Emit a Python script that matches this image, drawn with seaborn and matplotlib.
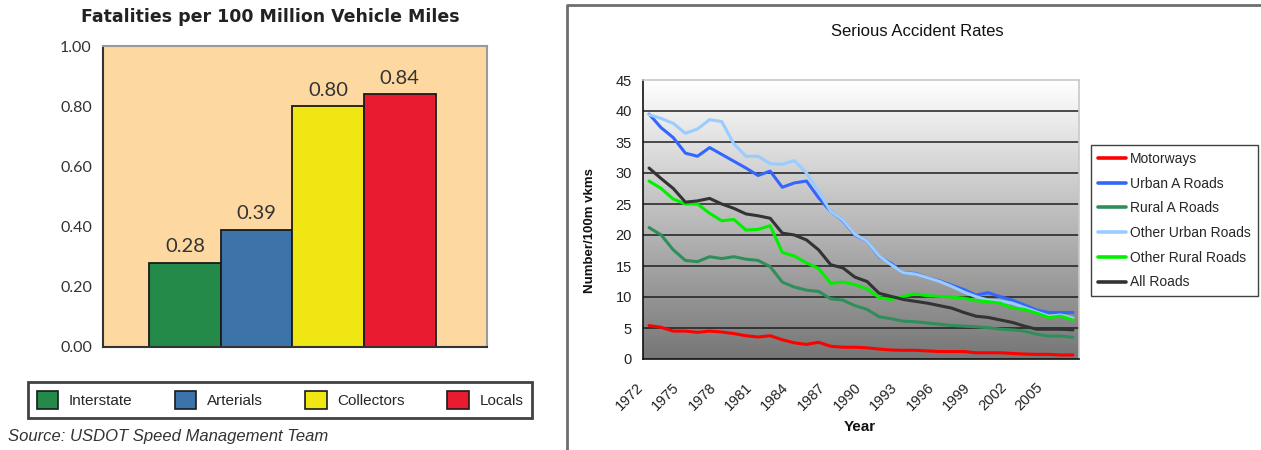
import numpy as np
import pandas as pd
import matplotlib
matplotlib.use("Agg")
import matplotlib.pyplot as plt
from matplotlib.colors import LinearSegmentedColormap
from matplotlib.patches import Patch
from matplotlib.lines import Line2D
from matplotlib.ticker import FixedLocator, NullFormatter
from matplotlib.transforms import ScaledTranslation
import seaborn as sns

# ---- Fatalities per 100 million vehicle miles ----
road_classes = ["Interstate", "Arterials", "Collectors", "Locals"]
fatality_rates = [0.28, 0.39, 0.80, 0.84]
bar_colors = ["#238a4a", "#3c74aa", "#f0e614", "#e81b30"]

# ---- Serious accident rates, 1972-2007 ----
years = list(range(1972, 2008))
motorways = [5.4, 5.1, 4.5, 4.5, 4.3, 4.5, 4.35, 4.1, 3.75, 3.55, 3.75, 3.1,
             2.6, 2.35, 2.7, 2.05, 1.9, 1.9, 1.8, 1.6, 1.45, 1.4, 1.4, 1.3,
             1.2, 1.2, 1.2, 1.0, 1.0, 1.0, 0.9, 0.8, 0.75, 0.75, 0.65, 0.65]
urban_a = [39.5, 37.3, 35.7, 33.2, 32.7, 34.1, 33.0, 31.9, 30.8, 29.6, 30.3, 27.7,
           28.4, 28.7, 26.0, 23.8, 22.3, 20.0, 19.0, 16.5, 15.4, 13.9, 13.8, 13.1,
           12.6, 11.9, 11.2, 10.3, 10.7, 10.05, 9.5, 8.7, 7.9, 7.5, 7.5, 7.5]
rural_a = [21.2, 20.0, 17.6, 15.9, 15.7, 16.5, 16.2, 16.5, 16.1, 15.9, 14.9, 12.4,
           11.6, 11.1, 10.9, 9.7, 9.5, 8.6, 8.0, 6.8, 6.5, 6.1, 6.0, 5.8,
           5.6, 5.4, 5.3, 5.2, 5.05, 4.8, 4.7, 4.5, 4.0, 3.7, 3.7, 3.5]
other_urban = [39.4, 38.8, 38.0, 36.4, 37.1, 38.6, 38.3, 34.7, 32.7, 32.7, 31.5, 31.4,
               32.0, 30.0, 27.0, 23.8, 22.4, 20.1, 19.0, 16.6, 15.2, 13.9, 13.7, 13.1,
               12.5, 11.7, 10.8, 10.05, 9.5, 9.35, 9.0, 8.3, 7.6, 6.9, 7.1, 6.6]
other_rural = [28.7, 27.5, 25.8, 25.0, 25.0, 23.5, 22.3, 22.5, 20.8, 20.9, 21.5, 17.2,
               16.6, 15.5, 14.6, 12.2, 12.4, 12.0, 11.3, 9.9, 9.6, 10.1, 10.5, 10.2,
               10.1, 10.0, 9.8, 9.4, 9.25, 9.0, 8.2, 8.0, 7.4, 6.7, 6.9, 6.3]
all_roads = [30.8, 29.1, 27.5, 25.3, 25.5, 25.9, 25.0, 24.3, 23.4, 23.1, 22.7, 20.3,
             20.0, 19.2, 17.6, 15.2, 14.7, 13.2, 12.5, 10.6, 10.1, 9.6, 9.3, 9.0,
             8.6, 8.2, 7.5, 6.9, 6.7, 6.3, 5.9, 5.3, 4.8, 4.8, 4.8, 4.7]

series_names = ["Motorways", "Urban A Roads", "Rural A Roads",
                "Other Urban Roads", "Other Rural Roads", "All Roads"]
series_values = [motorways, urban_a, rural_a, other_urban, other_rural, all_roads]
series_colors = ["#ff0000", "#3366ff", "#2f8f5b", "#99ccff", "#00f000", "#333333"]
year_labels = [str(y) for y in range(1972, 2008, 3)]

sns.set_style("white")
plt.rcParams["font.family"] = ["Liberation Sans", "DejaVu Sans"]

fig = plt.figure(figsize=(12.61, 4.5), dpi=100)

# ================= Left panel: bar chart =================
axb = fig.add_axes([103 / 1261, 1 - 347 / 450, 384 / 1261, 301 / 450])
bars_df = pd.DataFrame({"road": road_classes, "rate": fatality_rates})
sns.barplot(data=bars_df, x="road", y="rate", hue="road", palette=bar_colors,
            order=road_classes, hue_order=road_classes, width=1.0,
            edgecolor="#1a1a1a", linewidth=1.3, saturation=1, legend=False, ax=axb)
axb.set_facecolor("#fdd8a0")
axb.set_xlim(-1.15, 4.22)
axb.set_ylim(0, 1.0)
axb.set_yticks(np.arange(0, 1.01, 0.2))
axb.set_yticklabels([f"{v:.2f}" for v in np.arange(0, 1.01, 0.2)],
                    fontfamily="Lato", fontsize=11.5, color="#333333")
axb.set_xticks([])
axb.set_xlabel("")
axb.set_ylabel("")
axb.tick_params(axis="y", direction="out", length=5, width=1.2, color="#333333", pad=3)
for side in ("left", "bottom"):
    axb.spines[side].set_color("#333333")
    axb.spines[side].set_linewidth(1.5)
for side in ("top", "right"):
    axb.spines[side].set_color("#9a9a9a")
    axb.spines[side].set_linewidth(1.5)
for i, v in enumerate(fatality_rates):
    axb.text(i, v + 0.025, f"{v:.2f}", ha="center", va="bottom",
             fontfamily="Lato", fontsize=14.5, color="#333333")

fig.text(270 / 1261, 1 - 17 / 450, "Fatalities per 100 Million Vehicle Miles",
         ha="center", va="center", fontsize=12.5, fontweight="bold",
         fontfamily="DejaVu Sans", color="#222222")

bar_handles = [Patch(facecolor=c, edgecolor="#1a1a1a", linewidth=1.2) for c in bar_colors]
leg_b = fig.legend(bar_handles, road_classes, loc="center", ncol=4, mode="expand",
                   bbox_to_anchor=(20 / 1261, 1 - 422 / 450, 520 / 1261, 44 / 450),
                   bbox_transform=fig.transFigure, frameon=True, fancybox=False,
                   edgecolor="#111111", handlelength=1.4, handleheight=1.4,
                   handletextpad=0.7, borderpad=0.6,
                   prop={"family": "Liberation Sans", "size": 11})
leg_b.get_frame().set_linewidth(2.0)

fig.text(8 / 1261, 1 - 436 / 450, "Source: USDOT Speed Management Team",
         ha="left", va="center", fontsize=12, style="italic", color="#333333",
         fontfamily="Liberation Sans")

# ================= Right panel: line chart =================
fig.add_artist(Line2D([567 / 1261, 567 / 1261, 1.0], [0.0, 1 - 5 / 450, 1 - 5 / 450],
                      transform=fig.transFigure, color="#6e6e6e", linewidth=2))

axl = fig.add_axes([643 / 1261, 1 - 359 / 450, 436 / 1261, 279 / 450])
gradient = LinearSegmentedColormap.from_list("plot_bg", ["#767676", "#ffffff"])
axl.imshow(np.linspace(0, 1, 256).reshape(-1, 1), cmap=gradient, origin="lower",
           extent=[1971.5, 2007.5, 0, 45], aspect="auto", zorder=0)

long_df = pd.DataFrame({
    "Year": np.tile(years, len(series_names)),
    "Rate": np.concatenate(series_values),
    "Series": np.repeat(series_names, len(years)),
})
sns.lineplot(data=long_df, x="Year", y="Rate", hue="Series", hue_order=series_names,
             palette=series_colors, linewidth=2.2, legend=False, ax=axl, zorder=3)

axl.set_xlim(1971.5, 2007.5)
axl.set_ylim(0, 45)
for yv in range(5, 45, 5):
    axl.axhline(yv, color="#1e1e1e", linewidth=1.1, zorder=1)
axl.set_yticks(range(0, 46, 5))
axl.set_yticklabels([str(v) for v in range(0, 46, 5)], fontsize=10.5, color="#222222")
axl.set_xticks(range(1972, 2008, 3))
axl.set_xticklabels(year_labels, rotation=45, ha="right", rotation_mode="anchor",
                    fontsize=10.5, color="#222222")
axl.xaxis.set_minor_locator(FixedLocator(np.arange(1971.5, 2008, 1.0)))
axl.xaxis.set_minor_formatter(NullFormatter())
axl.tick_params(axis="x", which="major", length=0, pad=15)
axl.tick_params(axis="x", which="minor", direction="out", length=5, width=1.1, color="#111111")
axl.tick_params(axis="y", direction="out", length=5, width=1.1, color="#111111", pad=3)
# nudge the slanted year labels left so each one ends just before its year
shift = ScaledTranslation(-13 / 100, 0, fig.dpi_scale_trans)
for tick in axl.xaxis.get_major_ticks():
    tick.label1.set_transform(tick.label1.get_transform() + shift)
axl.set_xlabel("")
axl.set_ylabel("")
for side in ("left", "bottom"):
    axl.spines[side].set_color("#111111")
    axl.spines[side].set_linewidth(1.2)
for side in ("top", "right"):
    axl.spines[side].set_color("#c8c8c8")
    axl.spines[side].set_linewidth(1.2)

fig.text(917 / 1261, 1 - 31 / 450, "Serious Accident Rates", ha="center", va="center",
         fontsize=12, color="#111111")
fig.text(590 / 1261, 1 - 231 / 450, "Number/100m vkms", ha="center", va="center",
         rotation=90, fontsize=9.5, fontweight="bold", color="#111111")
fig.text(860 / 1261, 1 - 427 / 450, "Year", ha="center", va="center",
         fontsize=11, fontweight="bold", color="#111111")

line_handles = [Line2D([0], [0], color=c, linewidth=2.6) for c in series_colors]
leg_l = fig.legend(line_handles, series_names, loc="upper left",
                   bbox_to_anchor=(1091 / 1261, 1 - 145 / 450),
                   bbox_transform=fig.transFigure, frameon=True, fancybox=False,
                   edgecolor="#111111", handlelength=2.0, handletextpad=0.3,
                   labelspacing=0.77, borderpad=0.5, borderaxespad=0,
                   prop={"family": "Liberation Sans", "size": 10})
leg_l.get_frame().set_linewidth(1.0)

fig.savefig("out.png", dpi=100, facecolor="white")
